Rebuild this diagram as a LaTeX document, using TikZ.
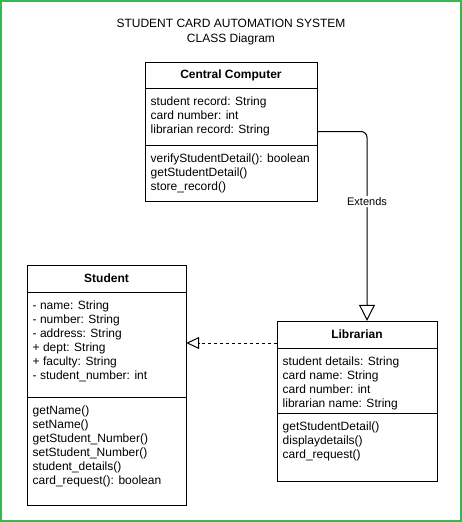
\documentclass[tikz,border=0pt]{standalone}
\usepackage{fontspec}
\setmainfont{Liberation Sans}
\usepackage{xcolor}
\usetikzlibrary{arrows.meta,positioning,fit}
\definecolor{framegreen}{RGB}{52,186,78}
\newcommand{\umlfont}{\fontsize{12}{14}\selectfont}

\begin{document}
\begin{tikzpicture}[x=1pt,y=-1pt,>=Latex,font=\umlfont,
  compart/.style={draw, line width=1pt, inner sep=0pt, outer sep=0pt},
  classhead/.style={compart, anchor=north west, minimum height=27pt, font=\umlfont\bfseries},
  members/.style={anchor=north west, align=left, inner sep=0pt, xshift=5.5pt, yshift=-8.5pt}]
\useasboundingbox (0,0) rectangle (462,522);
\draw[line width=2pt, framegreen] (1,1) rectangle (461,521);
\node[align=center, font=\fontsize{12}{14.5}\selectfont] (title) at (231,32) {STUDENT CARD AUTOMATION SYSTEM\\CLASS Diagram};

% Central Computer
\node[classhead, minimum width=172pt, minimum height=26pt] (cchead) at (145,62) {Central Computer};
\node[compart, minimum width=172pt, minimum height=57pt, below=0pt of cchead] (ccattr) {};
\node[compart, minimum width=172pt, minimum height=56pt, below=0pt of ccattr] (ccmeth) {};
\node[members] (ccattrtext) at (ccattr.north west) {student record: String\\card number: int\\librarian record: String};
\node[members] (ccmethtext) at (ccmeth.north west) {verifyStudentDetail(): boolean\\getStudentDetail()\\store\_record()};
\node[fit=(cchead)(ccmeth), inner sep=0pt] (cc) {};

% Student
\node[classhead, minimum width=159pt] (stuhead) at (27,265) {Student};
\node[compart, minimum width=159pt, minimum height=105pt, below=0pt of stuhead] (stuattr) {};
\node[compart, minimum width=159pt, minimum height=108pt, below=0pt of stuattr] (stumeth) {};
\node[members] (stuattrtext) at (stuattr.north west) {- name: String\\- number: String\\- address: String\\+ dept: String\\+ faculty: String\\- student\_number: int};
\node[members] (stumethtext) at (stumeth.north west) {getName()\\setName()\\getStudent\_Number()\\setStudent\_Number()\\student\_details()\\card\_request(): boolean};
\node[fit=(stuhead)(stumeth), inner sep=0pt] (stu) {};

% Librarian
\node[classhead, minimum width=160pt] (libhead) at (277,321) {Librarian};
\node[compart, minimum width=160pt, minimum height=65pt, below=0pt of libhead] (libattr) {};
\node[compart, minimum width=160pt, minimum height=68pt, below=0pt of libattr] (libmeth) {};
\node[members] (libattrtext) at (libattr.north west) {student details: String\\card name: String\\card number: int\\librarian name: String};
\node[members] (libmethtext) at (libmeth.north west) {getStudentDetail()\\displaydetails()\\card\_request()};
\node[fit=(libhead)(libmeth), inner sep=0pt] (lib) {};

% relations
\draw[line width=1pt, rounded corners=6pt, -{Triangle[open, length=16pt, width=16pt]}]
  (cc.east) -| ([xshift=10pt]lib.north)
  node[pos=0.685, fill=white, inner sep=1.5pt, font=\fontsize{11}{13}\selectfont] (extlabel) {Extends};
\coordinate (impl) at ([yshift=5pt]libhead.south west);
\draw[line width=1pt, dash pattern=on 3pt off 3pt, -{Triangle[open, length=13pt, width=12pt]}]
  (impl) -- (impl -| stu.east);
\end{tikzpicture}
\end{document}
